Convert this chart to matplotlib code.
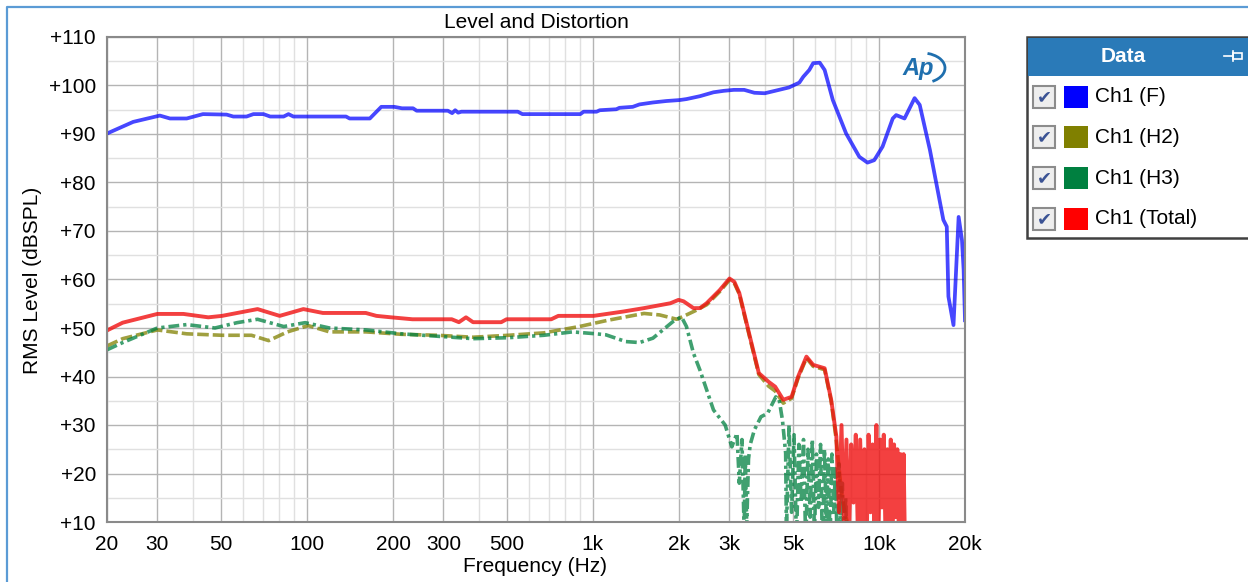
import matplotlib
matplotlib.use('Agg')
import matplotlib.pyplot as plt
from matplotlib.patches import Rectangle, Arc
from matplotlib.lines import Line2D

plt.rcParams['font.family'] = ['Liberation Sans', 'DejaVu Sans']

# ---- data ----
f_F = [20, 24.7, 30.6, 33.2, 38, 43.3, 52.4, 55.3, 61.5, 65, 70.5, 74.4, 82.9, 86.2, 89.7,
       137, 141, 166, 182, 202, 215, 235, 242, 311, 322, 330, 338, 347, 546, 567, 904, 928,
       1030, 1057, 1207, 1238, 1378, 1455, 1621, 1806, 2012, 2124, 2368, 2640, 2866, 3109,
       3380, 3670, 3990, 4330, 4850, 5270, 5440, 5710, 5890, 6210, 6460, 6900, 7680, 8540,
       9120, 9630, 10300, 11180, 11490, 12290, 13330, 13890, 15080, 16800, 17270, 17500,
       18230, 19000, 19520, 19780, 20000]
db_F = [90.1, 92.5, 93.8, 93.2, 93.2, 94.1, 94.0, 93.6, 93.6, 94.1, 94.1, 93.6, 93.6, 94.1, 93.6,
        93.6, 93.2, 93.2, 95.6, 95.6, 95.3, 95.3, 94.8, 94.8, 94.3, 94.9, 94.4, 94.6, 94.6, 94.1,
        94.1, 94.6, 94.6, 94.9, 95.1, 95.4, 95.6, 96.1, 96.5, 96.8, 97.0, 97.2, 97.8, 98.6, 98.9,
        99.1, 99.1, 98.5, 98.4, 98.9, 99.6, 100.6, 101.8, 103.2, 104.6, 104.7, 103.2, 97.0, 90.1,
        85.3, 84.1, 84.6, 87.4, 93.2, 93.9, 93.2, 97.4, 96.0, 86.7, 72.3, 70.9, 56.5, 50.6, 72.9,
        68.1, 62.0, 51.6]

f_H2 = [20, 22.7, 30, 38, 50.5, 64, 73.5, 85.5, 101, 120, 161, 214, 286, 381, 507, 674, 896,
        1129, 1509, 1710, 1966, 2124, 2306, 2500, 2775, 3003, 3124, 3250, 3516, 3803, 4115,
        4338, 4630, 4950, 5220, 5580, 5890, 6460, 6810, 7090, 7400, 7600, 7900]
db_H2 = [46.3, 47.8, 49.6, 48.8, 48.5, 48.5, 47.4, 49.2, 50.5, 49.2, 49.2, 48.7, 48.5, 48.1, 48.5,
         49.0, 50.3, 51.6, 53.0, 52.7, 51.8, 52.7, 53.7, 54.8, 57.5, 59.9, 59.2, 57.0, 48.6, 40.4,
         38.0, 37.0, 34.5, 35.5, 39.7, 43.8, 42.1, 41.4, 34.9, 27.0, 16, 12, 8]

f_H3 = [20, 22.7, 30, 38, 47.7, 57, 67.2, 83, 98.6, 120, 161, 214, 286, 381, 507, 674, 848, 1027,
        1110, 1303, 1455, 1621, 1903, 2040, 2124, 2247, 2368, 2640, 2900, 3060, 3190, 3250, 3320,
        3380, 3410, 3450, 3500, 3550, 3670, 3870, 4080, 4360, 4480, 4600, 4720,
        4750, 4850, 4950, 5050, 5150, 5250, 5350, 5450, 5550, 5650, 5750, 5850, 5950, 6050,
        6150, 6250, 6350, 6450, 6550, 6650, 6750, 6850, 6950, 7050, 7150, 7250, 7350, 7450,
        7550, 7650, 7750]
db_H3 = [45.5, 47.0, 50.0, 50.7, 50.0, 51.1, 51.8, 50.3, 51.1, 50.0, 49.6, 48.8, 48.3, 47.8, 48.0,
         48.5, 49.2, 48.8, 48.6, 47.2, 47.0, 47.9, 51.3, 52.3, 50.3, 44.8, 41.3, 33.1, 30.0, 25.5,
         28.3, 18, 27, 8, 24, 9, 23, 26, 29.0, 31.7, 32.4, 35.8, 35.2, 31.0, 24.2,
         8, 30, 12, 28, 6, 26, 14, 27, 5, 25, 11, 27, 7, 24, 13, 26, 4, 25, 10, 23, 6, 24, 12,
         21, 5, 22, 9, 18, 4, 15, 3]

f_Tot = [20, 22.7, 30, 37, 45.2, 50.5, 67.2, 80.3, 97.2, 113.7, 160.6, 175, 197, 234, 321, 340,
         360, 381, 478, 499, 715, 757, 1005, 1279, 1509, 1865, 1993, 2075, 2247, 2368, 2497,
         2775, 3003, 3124, 3250, 3516, 3803, 4115, 4338, 4630, 4950, 5220, 5580, 5890, 6460,
         6810, 7100, 7250, 7400, 7550, 7700, 7850, 8000, 8150, 8300, 8450, 8600, 8750, 8900,
         9050, 9200, 9350, 9500, 9650, 9800, 9950, 10100, 10250, 10400, 10550, 10700, 10850,
         11000, 11150, 11300, 11450, 11600, 11750, 11900, 12050, 12200, 12350]
db_Tot = [49.5, 51.1, 52.9, 52.9, 52.2, 52.5, 53.9, 52.5, 53.9, 53.1, 53.1, 52.5, 52.2, 51.8, 51.8,
          51.2, 52.2, 51.2, 51.2, 51.8, 51.8, 52.5, 52.5, 53.4, 54.1, 55.1, 55.8, 55.5, 54.1, 54.1,
          55.1, 57.8, 60.2, 59.5, 57.2, 48.9, 40.7, 38.9, 37.9, 35.2, 35.8, 40.0, 44.1, 42.4, 41.7,
          35.2, 27.6, 12, 30, 9, 27, 5, 26, 14, 28, 6, 27, 10, 25, 4, 28, 12, 26, 7, 30, 5, 27,
          13, 28, 6, 25, 9, 27, 4, 26, 11, 25, 6, 24, 8, 24, 3]

xtick_vals = [20, 30, 50, 100, 200, 300, 500, 1000, 2000, 3000, 5000, 10000, 20000]
xtick_labels = ['20', '30', '50', '100', '200', '300', '500', '1k', '2k', '3k', '5k', '10k', '20k']
xminor_vals = [40, 60, 70, 80, 90, 400, 600, 700, 800, 900, 4000, 6000, 7000, 8000, 9000]
ytick_vals = list(range(10, 111, 10))
ytick_labels = ['+%d' % v for v in ytick_vals]
yminor_vals = list(range(15, 110, 10))

legend_names = ['Ch1 (F)', 'Ch1 (H2)', 'Ch1 (H3)', 'Ch1 (Total)']
legend_colors = ['#0000ff', '#808000', '#008040', '#ff0000']

W, H = 1248, 582
fig = plt.figure(figsize=(W / 100, H / 100), dpi=100)
ax = fig.add_axes([107 / W, 60 / H, 858 / W, 485 / H])
ax.set_xscale('log')

ax.plot(f_F, db_F, color='#0000ff', lw=2.7, alpha=0.72, solid_joinstyle='round')
ax.plot(f_H2, db_H2, color='#808000', lw=2.6, alpha=0.75, dashes=(3.2, 1.1))
ax.plot(f_H3, db_H3, color='#008040', lw=2.6, alpha=0.75, dashes=(3.0, 1.1, 0.9, 1.1))
ax.plot(f_Tot, db_Tot, color='#f01010', lw=2.8, alpha=0.8, solid_joinstyle='round')

ax.set_xlim(20, 20000)
ax.set_ylim(10, 110)
ax.set_xticks(xtick_vals)
ax.set_xticklabels(xtick_labels)
ax.set_xticks(xminor_vals, minor=True)
ax.set_xticklabels([], minor=True)
ax.set_yticks(ytick_vals)
ax.set_yticklabels(ytick_labels)
ax.set_yticks(yminor_vals, minor=True)
ax.grid(True, which='major', color='#b4b4b4', lw=1.0)
ax.grid(True, which='minor', color='#e0e0e0', lw=1.0)
ax.set_axisbelow(True)
ax.tick_params(which='both', length=0, labelsize=15)
ax.tick_params(axis='y', pad=8)
ax.tick_params(axis='x', pad=9)
for s in ax.spines.values():
    s.set_color('#8a8a8a')
    s.set_linewidth(1.5)

def fx(px):
    return px / W

def fy(py):
    return 1 - py / H

fig.text(fx(536), fy(22), 'Level and Distortion', ha='center', va='center', fontsize=15)
fig.text(fx(535), fy(567), 'Frequency (Hz)', ha='center', va='center', fontsize=15)
fig.text(fx(33), fy(280), 'RMS Level (dBSPL)', ha='center', va='center', rotation=90, fontsize=15)

# outer window border
fig.add_artist(Line2D([fx(7), fx(7), fx(1248)], [fy(582), fy(7), fy(7)],
                      transform=fig.transFigure, color='#5b9bd5', lw=1.6))

# AP logo
fig.text(fx(918), fy(68), 'Ap', ha='center', va='center', fontsize=17, fontweight='bold',
         style='italic', color='#1f6fae')
fig.add_artist(Arc((fx(922), fy(68)), 46 / W, 30 / H, theta1=-70, theta2=80,
                   transform=fig.transFigure, color='#1f6fae', lw=2))

# legend panel
fig.add_artist(Rectangle((fx(1027), fy(238)), (1250 - 1027) / W, 201 / H, transform=fig.transFigure,
                         facecolor='white', edgecolor='#404040', lw=1.8))
fig.add_artist(Rectangle((fx(1028), fy(76)), (1250 - 1028) / W, 38 / H, transform=fig.transFigure,
                         facecolor='#2a7ab8', edgecolor='none'))
fig.text(fx(1123), fy(57), 'Data', ha='center', va='center', fontsize=15, fontweight='bold',
         color='white')
fig.add_artist(Line2D([fx(1224), fx(1233)], [fy(56), fy(56)], transform=fig.transFigure,
                      color='white', lw=1.2))
fig.add_artist(Line2D([fx(1233), fx(1233)], [fy(51), fy(61)], transform=fig.transFigure,
                      color='white', lw=1.2))
fig.add_artist(Rectangle((fx(1233), fy(59)), 9 / W, 6 / H, transform=fig.transFigure,
                         facecolor='none', edgecolor='white', lw=1.2))

row_y = [97, 137, 178, 219]
for name, col, yy in zip(legend_names, legend_colors, row_y):
    fig.add_artist(Rectangle((fx(1033), fy(yy + 11)), 22 / W, 22 / H, transform=fig.transFigure,
                             facecolor='#eeeeee', edgecolor='#8c8c8c', lw=1.5))
    fig.text(fx(1044), fy(yy), '\u2714', ha='center', va='center', fontsize=13,
             color='#3b5394', family='DejaVu Sans')
    fig.add_artist(Rectangle((fx(1064), fy(yy + 11)), 24 / W, 22 / H, transform=fig.transFigure,
                             facecolor=col, edgecolor='none'))
    fig.text(fx(1095), fy(yy), name, ha='left', va='center', fontsize=15)

fig.savefig('out.png', dpi=100)
